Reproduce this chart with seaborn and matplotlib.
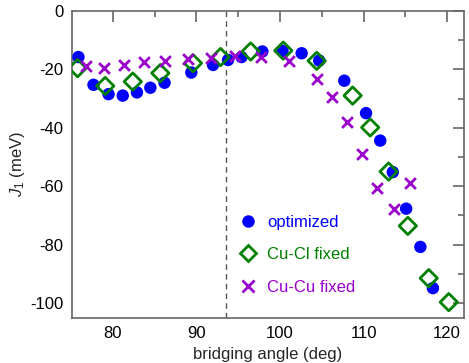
import matplotlib
matplotlib.use("Agg")
import matplotlib.pyplot as plt
import seaborn as sns
import pandas as pd
from matplotlib.lines import Line2D

# Data
opt_angle = [75.9, 77.7, 79.5, 81.2, 82.9, 84.5, 86.2, 89.4, 92.0, 93.8, 95.4, 97.9,
             100.3, 102.6, 104.7, 107.7, 110.3, 112.0, 113.5, 115.1, 116.8, 118.3]
opt_J = [-15.8, -25.3, -28.5, -29.0, -27.9, -26.3, -24.6, -21.1, -18.5, -16.8, -15.8, -13.9,
         -13.7, -14.5, -17.0, -23.9, -35.0, -44.4, -55.2, -67.7, -80.8, -94.9]

cucl_angle = [75.8, 79.1, 82.4, 85.7, 89.6, 92.9, 96.5, 100.4, 104.4, 108.7, 110.8,
              113.0, 115.3, 117.8, 120.2]
cucl_J = [-19.6, -25.7, -24.2, -21.3, -17.9, -15.8, -13.9, -13.6, -17.1, -29.0, -39.9,
          -55.0, -73.6, -91.5, -99.7]

cucu_angle = [76.8, 79.0, 81.4, 83.8, 86.2, 89.0, 91.8, 94.6, 97.7, 101.1, 104.4,
              106.2, 108.0, 109.8, 111.6, 113.6, 115.6]
cucu_J = [-19.0, -19.6, -18.5, -17.6, -17.0, -16.5, -16.2, -15.6, -15.8, -17.3, -23.4,
          -29.5, -38.1, -49.0, -60.7, -67.7, -59.0]

labels = ["optimized", "Cu-Cl fixed", "Cu-Cu fixed"]
colors = ["#0000ff", "#008000", "#9900cc"]
vline_x = 93.6

sns.set_style("white")
plt.rcParams["font.family"] = ["Liberation Sans", "DejaVu Sans"]
plt.rcParams["axes.unicode_minus"] = False
plt.rcParams["mathtext.fontset"] = "custom"
plt.rcParams["mathtext.rm"] = "Liberation Sans"
plt.rcParams["mathtext.it"] = "Liberation Sans:italic"

fig = plt.figure(figsize=(4.69, 3.63), dpi=100)
ax = fig.add_axes([0.153, 0.125, 0.836, 0.845])

df_opt = pd.DataFrame({"x": opt_angle, "y": opt_J})
df_cl = pd.DataFrame({"x": cucl_angle, "y": cucl_J})
df_cu = pd.DataFrame({"x": cucu_angle, "y": cucu_J})

ax.axvline(vline_x, color="#555555", ls=(0, (4, 3)), lw=1.0, zorder=1)

sns.scatterplot(data=df_opt, x="x", y="y", ax=ax, marker="o", s=80,
                color=colors[0], edgecolor="none", zorder=3)
sns.scatterplot(data=df_cl, x="x", y="y", ax=ax, marker="D", s=78,
                facecolor="none", edgecolor=colors[1], linewidth=2.0, zorder=4)
sns.scatterplot(data=df_cu, x="x", y="y", ax=ax, marker="x", s=60,
                color=colors[2], linewidth=2.0, zorder=5)

ax.set_xlim(75.1, 122.0)
ax.set_ylim(-105, 0)
ax.set_xticks([80, 90, 100, 110, 120])
ax.set_xticks([85, 95, 105, 115], minor=True)
ax.set_yticks([0, -20, -40, -60, -80, -100])
ax.set_yticks([-10, -30, -50, -70, -90], minor=True)

for sp in ax.spines.values():
    sp.set_color("#666666")
    sp.set_linewidth(1.2)
ax.tick_params(which="both", direction="in", top=True, right=True,
               color="#666666", width=1.2, labelsize=12, labelcolor="black")
ax.tick_params(which="major", length=8, pad=6)
ax.tick_params(which="minor", length=4)

ax.set_xlabel("bridging angle (deg)", fontsize=12, labelpad=4)
ax.set_ylabel(r"$J_1$ (meV)", fontsize=12, labelpad=2)

handles = [
    Line2D([], [], ls="none", marker="o", ms=9, color=colors[0], mec="none"),
    Line2D([], [], ls="none", marker="D", ms=8.5, mfc="none", mec=colors[1], mew=2.0),
    Line2D([], [], ls="none", marker="x", ms=8, color=colors[2], mew=2.0),
]
leg = ax.legend(handles, labels, loc="upper left", bbox_to_anchor=(0.385, 0.385),
                frameon=False, fontsize=12, handletextpad=0.55, labelspacing=1.05,
                handlelength=1.2, labelcolor=colors)

fig.savefig("out.png", dpi=100)
